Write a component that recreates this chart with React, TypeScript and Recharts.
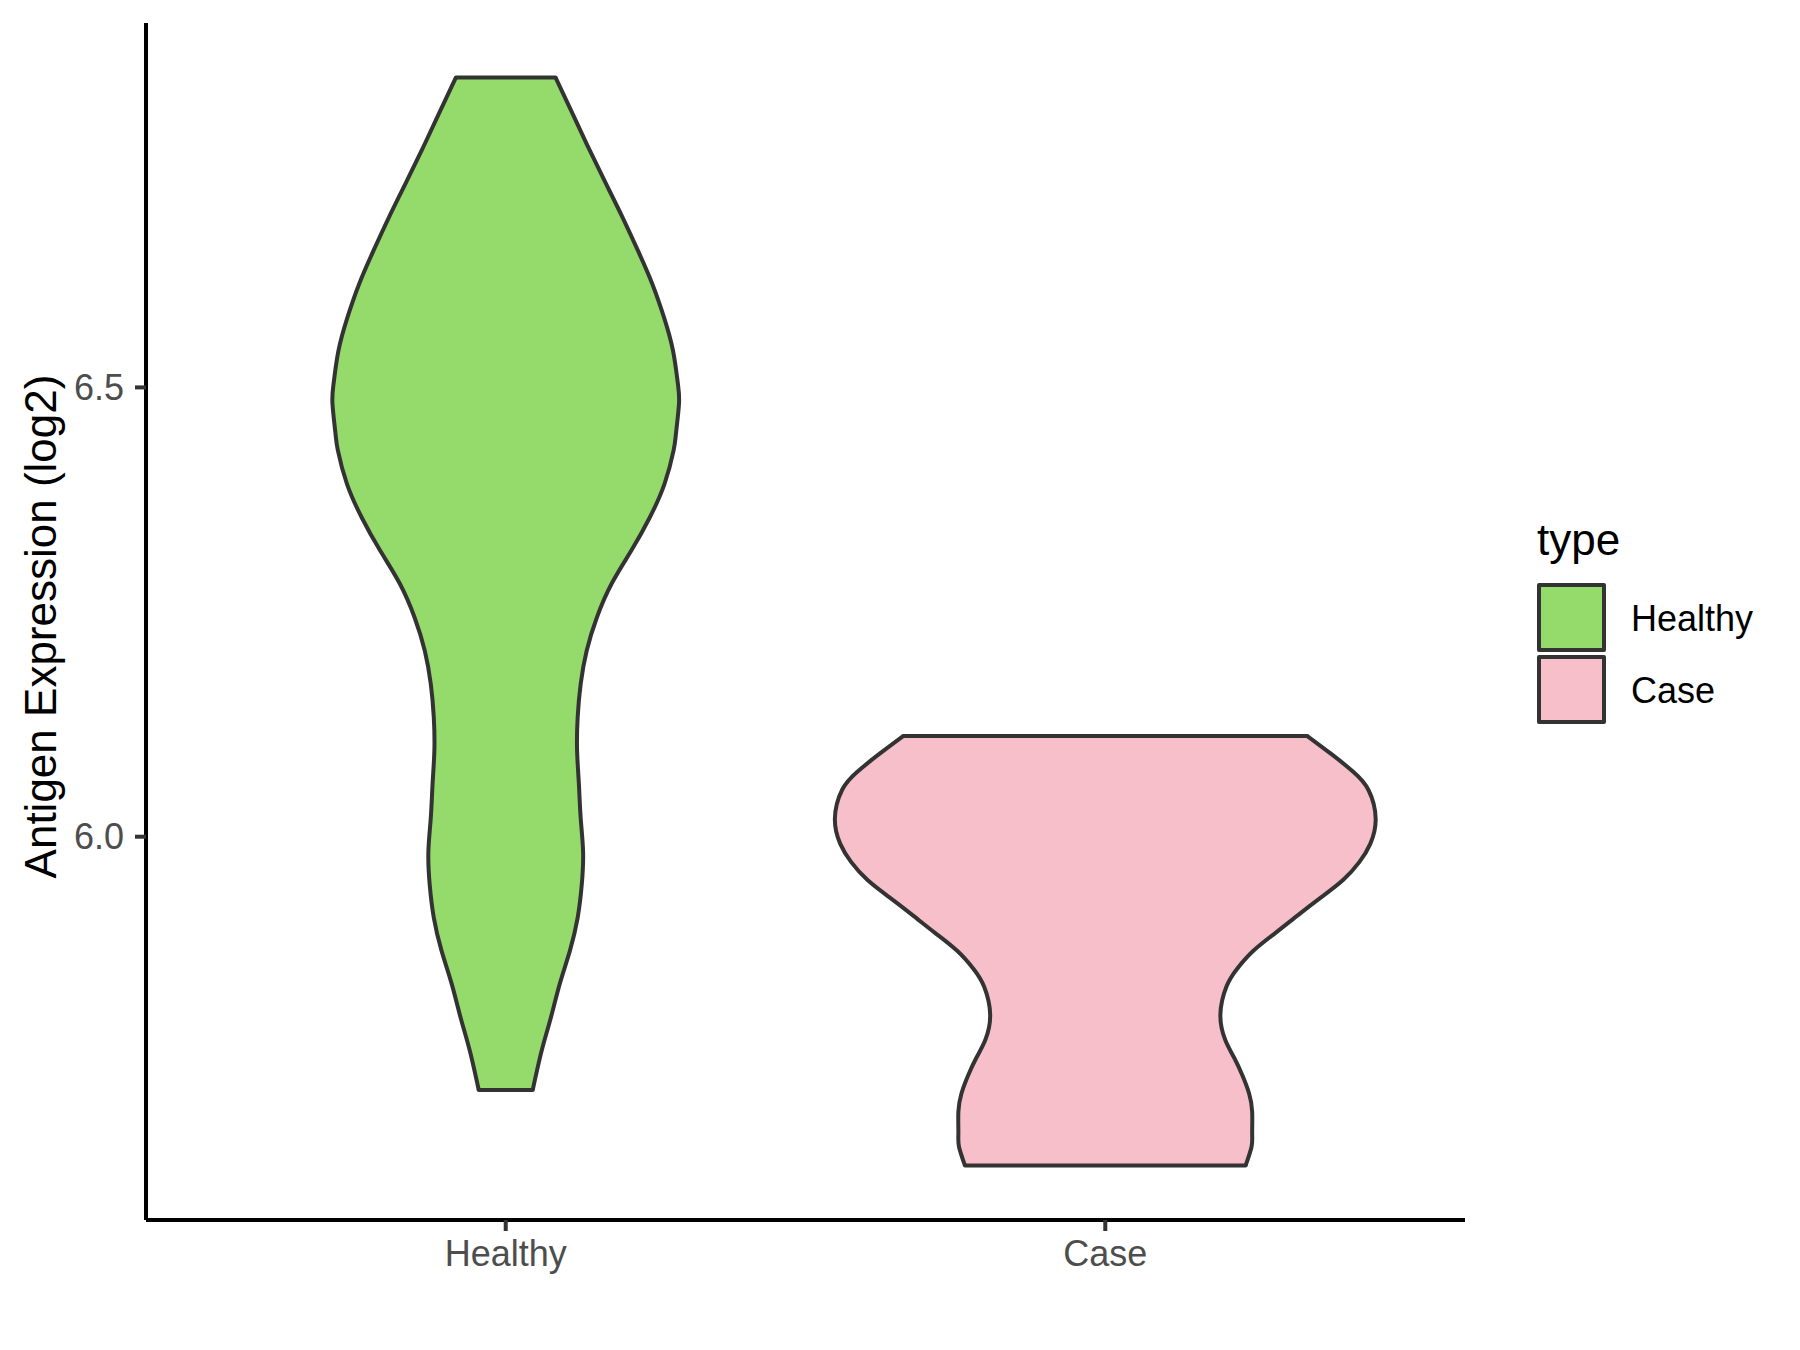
import React from 'react';
import { ComposedChart, Area, XAxis, YAxis, ReferenceLine, Legend, Label } from 'recharts';

const categories = ['Healthy', 'Case'];
const fills = ['#94DB6B', '#F7BFCA'];

// violin outlines: expression value and half width (in category units)
const healthyY = [
  6.845, 6.801, 6.764, 6.727, 6.689, 6.653, 6.616, 6.578, 6.541, 6.505, 6.482, 6.449, 6.43,
  6.393, 6.355, 6.319, 6.282, 6.244, 6.207, 6.17, 6.133, 6.096, 6.059, 6.021, 5.984, 5.948,
  5.91, 5.873, 5.836, 5.798, 5.762, 5.718,
];
const healthyHalfWidth = [
  0.083, 0.114, 0.14, 0.167, 0.195, 0.22, 0.244, 0.264, 0.279, 0.287, 0.289, 0.284, 0.28,
  0.265, 0.24, 0.21, 0.177, 0.152, 0.135, 0.125, 0.12, 0.119, 0.122, 0.125, 0.129, 0.127,
  0.12, 0.107, 0.09, 0.075, 0.06, 0.045,
];
const caseY = [
  6.112, 6.091, 6.072, 6.052, 6.02, 5.992, 5.972, 5.952, 5.933, 5.913, 5.893, 5.873, 5.853,
  5.833, 5.802, 5.774, 5.754, 5.734, 5.714, 5.694, 5.67, 5.655, 5.634,
];
const caseHalfWidth = [
  0.337, 0.379, 0.414, 0.439, 0.451, 0.442, 0.424, 0.397, 0.361, 0.322, 0.284, 0.247, 0.22,
  0.202, 0.192, 0.2, 0.215, 0.229, 0.24, 0.245, 0.245, 0.244, 0.234,
];
const yTicks = [6.0, 6.5];

const FONT = '"Liberation Sans", Arial, Helvetica, sans-serif';
const OUTLINE = '#333333';

// one row per outline point, the other violin gets [null, null] so it is skipped
const rows = [
  ...healthyY.map((y, i) => ({
    y,
    healthy: [1 - healthyHalfWidth[i], 1 + healthyHalfWidth[i]],
    caseRange: [null, null],
  })),
  ...caseY.map((y, i) => ({
    y,
    healthy: [null, null],
    caseRange: [2 - caseHalfWidth[i], 2 + caseHalfWidth[i]],
  })),
];

// flat trimmed ends of each violin
const edges = [
  { c: 1, y: healthyY[0], w: healthyHalfWidth[0] },
  { c: 1, y: healthyY[healthyY.length - 1], w: healthyHalfWidth[healthyHalfWidth.length - 1] },
  { c: 2, y: caseY[0], w: caseHalfWidth[0] },
  { c: 2, y: caseY[caseY.length - 1], w: caseHalfWidth[caseHalfWidth.length - 1] },
];

const allY = [...healthyY, ...caseY];
const yLo = Math.min(...allY);
const yHi = Math.max(...allY);
const pad = (yHi - yLo) * 0.05;

const renderLegend = () => (
  <svg width={270} height={240} style={{ display: 'block', fontFamily: FONT }}>
    <text x={7} y={55} fontSize={44} fill="#000">
      type
    </text>
    {categories.map((c, i) => (
      <g key={c}>
        <rect
          x={9}
          y={85 + i * 72}
          width={65}
          height={65}
          fill={fills[i]}
          stroke={OUTLINE}
          strokeWidth={4}
          strokeLinejoin="round"
        />
        <text x={101} y={131 + i * 72} fontSize={36} fill="#000">
          {c}
        </text>
      </g>
    ))}
  </svg>
);

const YTitle = (props: any) => {
  const vb = props.viewBox || { x: 46, y: 23, width: 100, height: 1197 };
  const x = vb.x + 10;
  const y = vb.y + vb.height / 2 + 5;
  return (
    <text
      x={x}
      y={y}
      transform={`rotate(-90, ${x}, ${y})`}
      textAnchor="middle"
      fontSize={44}
      fontFamily={FONT}
      fill="#000"
    >
      Antigen Expression (log2)
    </text>
  );
};

const App = () => {
  return (
    <div style={{ position: 'absolute', left: 0, top: 0, width: 1800, height: 1350, background: '#fff' }}>
      <ComposedChart
        width={1800}
        height={1350}
        data={rows}
        layout="vertical"
        margin={{ top: 23, right: 335, left: 46, bottom: 50 }}
        style={{ fontFamily: FONT }}
      >
        <XAxis
          type="number"
          domain={[0.4, 2.6]}
          allowDataOverflow
          ticks={[1, 2]}
          tickFormatter={(v: number) => categories[Math.round(v) - 1]}
          height={80}
          tickSize={11}
          tickMargin={9}
          axisLine={{ stroke: '#000', strokeWidth: 4 }}
          tickLine={{ stroke: OUTLINE, strokeWidth: 4 }}
          tick={{ fill: '#4D4D4D', fontSize: 36, fontFamily: FONT }}
        />
        <YAxis
          type="number"
          dataKey="y"
          reversed
          domain={[yLo - pad, yHi + pad]}
          allowDataOverflow
          ticks={yTicks}
          tickFormatter={(v: number) => v.toFixed(1)}
          width={100}
          tickSize={11}
          tickMargin={11}
          axisLine={{ stroke: '#000', strokeWidth: 4 }}
          tickLine={{ stroke: OUTLINE, strokeWidth: 4 }}
          tick={{ fill: '#4D4D4D', fontSize: 36, fontFamily: FONT }}
        >
          <Label content={<YTitle />} />
        </YAxis>
        <Area
          type="natural"
          dataKey="healthy"
          name="Healthy"
          fill={fills[0]}
          fillOpacity={1}
          stroke={OUTLINE}
          strokeWidth={4}
          connectNulls
          dot={false}
          activeDot={false}
          isAnimationActive={false}
        />
        <Area
          type="natural"
          dataKey="caseRange"
          name="Case"
          fill={fills[1]}
          fillOpacity={1}
          stroke={OUTLINE}
          strokeWidth={4}
          connectNulls
          dot={false}
          activeDot={false}
          isAnimationActive={false}
        />
        {edges.map((e, i) => (
          <ReferenceLine
            key={i}
            segment={[
              { x: e.c - e.w, y: e.y },
              { x: e.c + e.w, y: e.y },
            ]}
            stroke={OUTLINE}
            strokeWidth={4}
            strokeLinecap="round"
            ifOverflow="visible"
          />
        ))}
        <Legend
          layout="horizontal"
          align="center"
          verticalAlign="middle"
          content={renderLegend}
          wrapperStyle={{ left: 1530, top: 500, width: 270, height: 240 }}
        />
      </ComposedChart>
    </div>
  );
};

export default App;
